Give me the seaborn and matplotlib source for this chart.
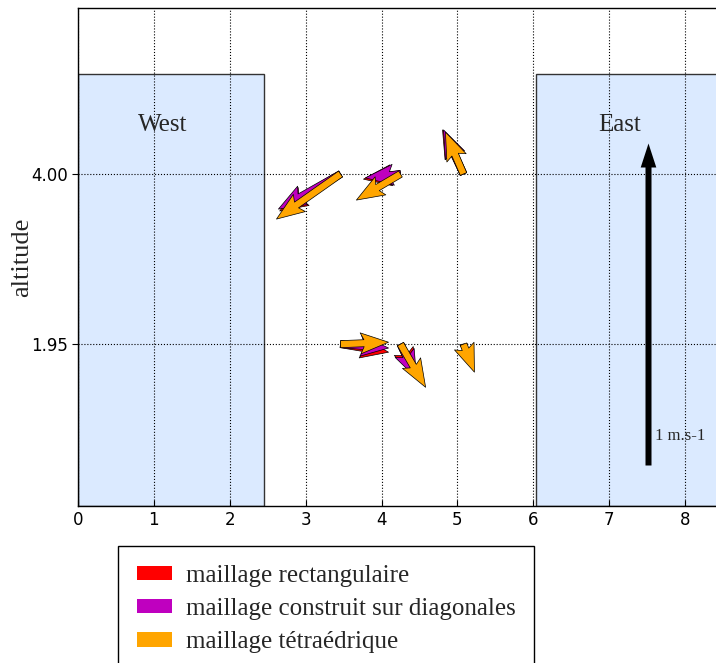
import numpy as np
import seaborn as sns
import matplotlib.pyplot as plt
from matplotlib.patches import Rectangle, Patch

# arrow anchor points (x, altitude)
x_pts = [3.46, 4.25, 5.08, 3.46, 4.25, 5.08]
y_pts = [4.0, 4.0, 4.0, 1.95, 1.95, 1.95]

# velocity components (m.s-1)
u_rect = [-0.189, -0.115, -0.065, 0.149, 0.047, 0.003]
v_rect = [-0.115, -0.016, 0.137, -0.025, -0.100, -0.028]
u_diag = [-0.193, -0.109, -0.062, 0.149, 0.050, 0.006]
v_diag = [-0.109, -0.012, 0.137, -0.012, -0.106, -0.030]
u_tetra = [-0.199, -0.137, -0.056, 0.149, 0.078, 0.034]
v_tetra = [-0.140, -0.081, 0.130, 0.006, -0.134, -0.087]

labels = ["maillage rectangulaire", "maillage construit sur diagonales",
          "maillage tétraédrique"]
colors = ["#ff0000", "#bf00bf", "#ffa500"]

# buildings: (x left, width, height)
buildings = [(0.0, 2.45, 5.2), (6.04, 3.0, 5.2)]

sns.set_style("ticks")
serif = "Liberation Serif"

fig = plt.figure(figsize=(7.16, 6.63), dpi=100)
ax = fig.add_axes([78 / 716, 157 / 663, 645 / 716, 498 / 663])

for bx, bw, bh in buildings:
    ax.add_patch(Rectangle((bx, 0), bw, bh, facecolor="#dbeaff",
                           edgecolor="#333333", linewidth=1.0, zorder=1))

ax.text(1.12, 4.59, "West", ha="center", va="center", fontsize=18, family=serif)
ax.text(7.14, 4.59, "East", ha="center", va="center", fontsize=18, family=serif)

qkw = dict(angles="uv", scale_units="inches", scale=1 / 3.22, units="dots",
           width=7, headwidth=3, headlength=4, headaxislength=3.5,
           edgecolor="black", linewidth=0.5, zorder=3)
for u, v, c in zip([u_rect, u_diag, u_tetra], [v_rect, v_diag, v_tetra], colors):
    ax.quiver(x_pts, y_pts, u, v, color=c, **qkw)

# reference arrow 1 m.s-1
ax.quiver([7.51], [0.49], [0], [1], color="black", angles="uv",
          scale_units="inches", scale=1 / 3.22, units="dots", width=6,
          headwidth=2.6, headlength=4, headaxislength=4, zorder=3)
ax.text(7.6, 0.84, "1 m.s-1", ha="left", va="center", fontsize=12, family=serif)

ax.set_xlim(0, 8.5)
ax.set_ylim(0, 6)
ax.set_xticks(range(0, 9))
ax.set_yticks([1.95, 4.0])
ax.set_yticklabels(["1.95", "4.00"])
ax.tick_params(axis="x", direction="in", length=4, labelsize=12, colors="black")
ax.tick_params(axis="y", direction="out", length=4, labelsize=12, colors="black")
ax.set_axisbelow("line")
ax.grid(True, color="black", linestyle=":", linewidth=0.8)
ax.set_ylabel("altitude", fontsize=19, family=serif, labelpad=-2)
for s in ax.spines.values():
    s.set_color("black")
    s.set_linewidth(1.0)

handles = [Patch(facecolor=c, edgecolor="none") for c in colors]
leg = fig.legend(handles, labels, loc="upper left",
                 bbox_to_anchor=(118 / 716, 1 - 546 / 663), borderaxespad=0,
                 prop={"family": serif, "size": 18}, fancybox=False,
                 framealpha=1, edgecolor="black", handlelength=1.4,
                 handleheight=0.5, handletextpad=0.55, borderpad=0.75,
                 labelspacing=0.45)
leg.get_frame().set_linewidth(1.0)

fig.savefig("out.png", dpi=100)
